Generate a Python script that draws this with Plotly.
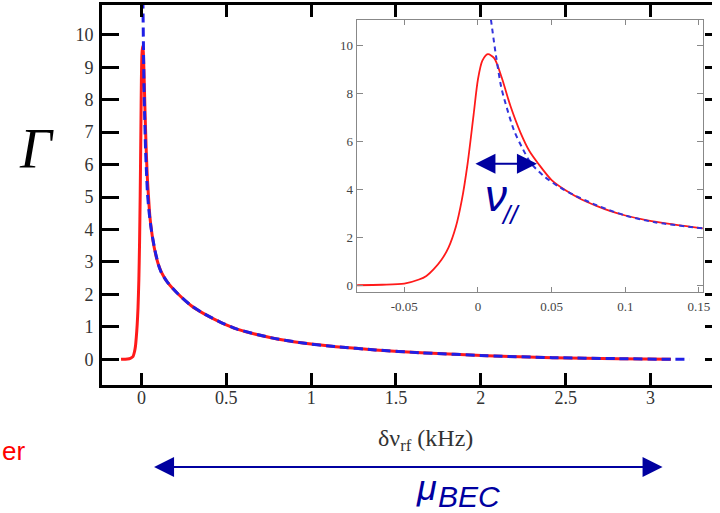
import plotly.graph_objects as go

# ---- data ----
# peak region (same curve as main)
peak_x = [-0.082, -0.065, -0.05, -0.04, -0.035, -0.03, -0.025, -0.02, -0.015, -0.011,
          -0.007, -0.003, 0.0, 0.003, 0.0067, 0.011, 0.016, 0.022, 0.029, 0.035,
          0.041, 0.05, 0.06, 0.07, 0.08, 0.09, 0.10, 0.115, 0.13, 0.153]
peak_red = [0.01, 0.03, 0.08, 0.25, 0.40, 0.68, 1.05, 1.58, 2.45, 3.55,
            5.10, 7.10, 8.60, 9.38, 9.65, 9.49, 8.70, 7.50, 6.36, 5.60,
            5.08, 4.40, 3.95, 3.60, 3.33, 3.10, 2.92, 2.72, 2.57, 2.38]
blue_x = [0.0088, 0.0123, 0.0157, 0.018, 0.0246, 0.030, 0.036, 0.045, 0.056,
          0.065, 0.08, 0.10, 0.12, 0.153]
blue_y = [11.1, 9.56, 8.30, 7.75, 6.45, 5.75, 5.10, 4.55, 4.08,
          3.78, 3.36, 2.92, 2.64, 2.38]
# tail of the main curve
tail_x = [0.215, 0.292, 0.37, 0.467, 0.564, 0.758, 0.952, 1.145, 1.378, 1.649,
          2.037, 2.42, 2.81, 3.12]
tail_y = [2.02, 1.66, 1.40, 1.14, 0.93, 0.67, 0.50, 0.39, 0.29, 0.20,
          0.11, 0.05, 0.02, 0.0]
red_start_x, red_start_y = [-0.12], [0.0]
blue_end_x, blue_end_y = [3.23], [0.0]

main_xticks = [0, 0.5, 1, 1.5, 2, 2.5, 3]
main_xticktext = ["0", "0.5", "1", "1.5", "2", "2.5", "3"]
main_yticks = list(range(0, 11))
inset_xticks = [-0.05, 0, 0.05, 0.1, 0.15]
inset_xticktext = ["-0.05", "0", "0.05", "0.1", "0.15"]
inset_yticks = [0, 2, 4, 6, 8, 10]

W, H = 720, 513
def px(x): return x / W
def py(y): return 1 - y / H

RED = "#ff1a1a"
BLUE = "#1f1fe6"
NAVY = "#0000a0"
XR = [-0.233, 3.362]
YR = [-0.8, 10.92]

fig = go.Figure()
# main
fig.add_trace(go.Scatter(x=red_start_x + peak_x + tail_x, y=red_start_y + peak_red + tail_y,
                         mode="lines", line=dict(color=RED, width=3, shape="spline", smoothing=0.6),
                         xaxis="x", yaxis="y"))
fig.add_trace(go.Scatter(x=blue_x + tail_x + blue_end_x, y=blue_y + tail_y + blue_end_y,
                         mode="lines", line=dict(color=BLUE, width=3, dash="9px,5px",
                                                 shape="spline", smoothing=0.6),
                         xaxis="x", yaxis="y"))
fig.add_trace(go.Scatter(x=[], y=[], xaxis="x", yaxis="y3"))
fig.add_trace(go.Scatter(x=[], y=[], xaxis="x3", yaxis="y"))
# inset
fig.add_trace(go.Scatter(x=peak_x, y=peak_red, mode="lines",
                         line=dict(color=RED, width=1.8, shape="spline", smoothing=0.8),
                         xaxis="x2", yaxis="y2"))
fig.add_trace(go.Scatter(x=blue_x, y=blue_y, mode="lines",
                         line=dict(color="#3333dd", width=2, dash="5px,4px",
                                   shape="spline", smoothing=0.8),
                         xaxis="x2", yaxis="y2"))

serif = "Liberation Serif"
tickfont = dict(family=serif, size=18, color="#333")

fig.update_layout(
    width=W, height=H, margin=dict(l=0, r=0, t=0, b=0),
    paper_bgcolor="white", plot_bgcolor="white", showlegend=False,
    xaxis=dict(domain=[px(103), 1.0], range=XR, showline=True,
               linecolor="black", linewidth=2.5, mirror="ticks", ticks="inside",
               ticklen=12, tickwidth=2.5, tickcolor="black", tickvals=main_xticks,
               showticklabels=False, showgrid=False, zeroline=False),
    # tick labels of the main x axis, placed a little closer to the frame
    xaxis3=dict(overlaying="x", anchor="free", position=py(386), side="bottom",
                range=XR, showline=False, ticks="", tickvals=main_xticks,
                ticktext=main_xticktext, tickfont=tickfont, showgrid=False,
                zeroline=False),
    yaxis=dict(domain=[py(386), py(5)], range=YR, showline=True,
               linecolor="black", linewidth=2.5, ticks="inside", ticklen=17,
               tickwidth=2.5, tickcolor="black", tickvals=main_yticks,
               tickfont=tickfont, showgrid=False, zeroline=False,
               ticklabelstandoff=2),
    yaxis3=dict(overlaying="y", anchor="free", position=1.0, side="right",
                range=YR, showline=False, ticks="inside", ticklen=7,
                tickwidth=2.5, tickcolor="black", tickvals=main_yticks,
                showticklabels=False, showgrid=False, zeroline=False),
    xaxis2=dict(domain=[px(360.7), px(710.7)], range=[-0.0823, 0.1526], anchor="y2",
                showline=True, linecolor="#888", linewidth=1.2, mirror="ticks",
                ticks="inside", ticklen=5, tickwidth=1, tickcolor="#888",
                tickvals=inset_xticks, ticktext=inset_xticktext,
                tickfont=dict(family=serif, size=13, color="#444"),
                showgrid=False, zeroline=False, ticklabelstandoff=2),
    yaxis2=dict(domain=[py(293), py(20)], range=[-0.29, 11.08], anchor="x2",
                showline=True, linecolor="#888", linewidth=1.2, mirror="ticks",
                ticks="inside", ticklen=6, tickwidth=1, tickcolor="#888",
                tickvals=inset_yticks,
                tickfont=dict(family=serif, size=13, color="#444"),
                showgrid=False, zeroline=False, ticklabelstandoff=0),
)

ann = []
# Gamma label
ann.append(dict(x=px(37), y=py(149), xref="paper", yref="paper", text="<i>Γ</i>",
                showarrow=False, xanchor="center", yanchor="middle",
                font=dict(family=serif, size=56, color="black")))
# x title
ann.append(dict(x=px(430), y=py(441), xref="paper", yref="paper",
                text="δν<sub>rf</sub> (kHz)", showarrow=False, xanchor="center",
                yanchor="middle", font=dict(family=serif, size=24, color="#333")))
# red partial word
ann.append(dict(x=0, y=py(452), xref="paper", yref="paper", text="er",
                showarrow=False, xanchor="left", yanchor="middle",
                font=dict(family="Liberation Sans", size=26, color="#ff0000")))
# mu_BEC arrow
ann.append(dict(x=px(670), y=py(468), xref="paper", yref="paper", ax=-510, ay=0,
                text="", showarrow=True, arrowside="end+start", arrowhead=2,
                startarrowhead=2, arrowsize=2, startarrowsize=2, arrowwidth=2,
                arrowcolor=NAVY))
ann.append(dict(x=px(419), y=py(488), xref="paper", yref="paper", text="<i>μ</i>",
                showarrow=False, xanchor="left", yanchor="middle",
                font=dict(family="Liberation Sans", size=36, color=NAVY)))
ann.append(dict(x=px(441), y=py(497), xref="paper", yref="paper", text="<i>BEC</i>",
                showarrow=False, xanchor="left", yanchor="middle",
                font=dict(family="Liberation Sans", size=30, color=NAVY)))
# nu arrow in inset
ann.append(dict(x=px(543), y=py(164), xref="paper", yref="paper", ax=-63, ay=0,
                text="", showarrow=True, arrowside="end+start", arrowhead=2,
                startarrowhead=2, arrowsize=2, startarrowsize=2, arrowwidth=2,
                arrowcolor=NAVY))
ann.append(dict(x=px(488), y=py(196), xref="paper", yref="paper", text="<i>ν</i>",
                showarrow=False, xanchor="left", yanchor="middle",
                font=dict(family="Liberation Sans", size=44, color=NAVY)))
ann.append(dict(x=px(505), y=py(215), xref="paper", yref="paper", text="<i>//</i>",
                showarrow=False, xanchor="left", yanchor="middle",
                font=dict(family="Liberation Sans", size=26, color=NAVY)))
fig.update_layout(annotations=ann)

fig.write_html("out.html")
